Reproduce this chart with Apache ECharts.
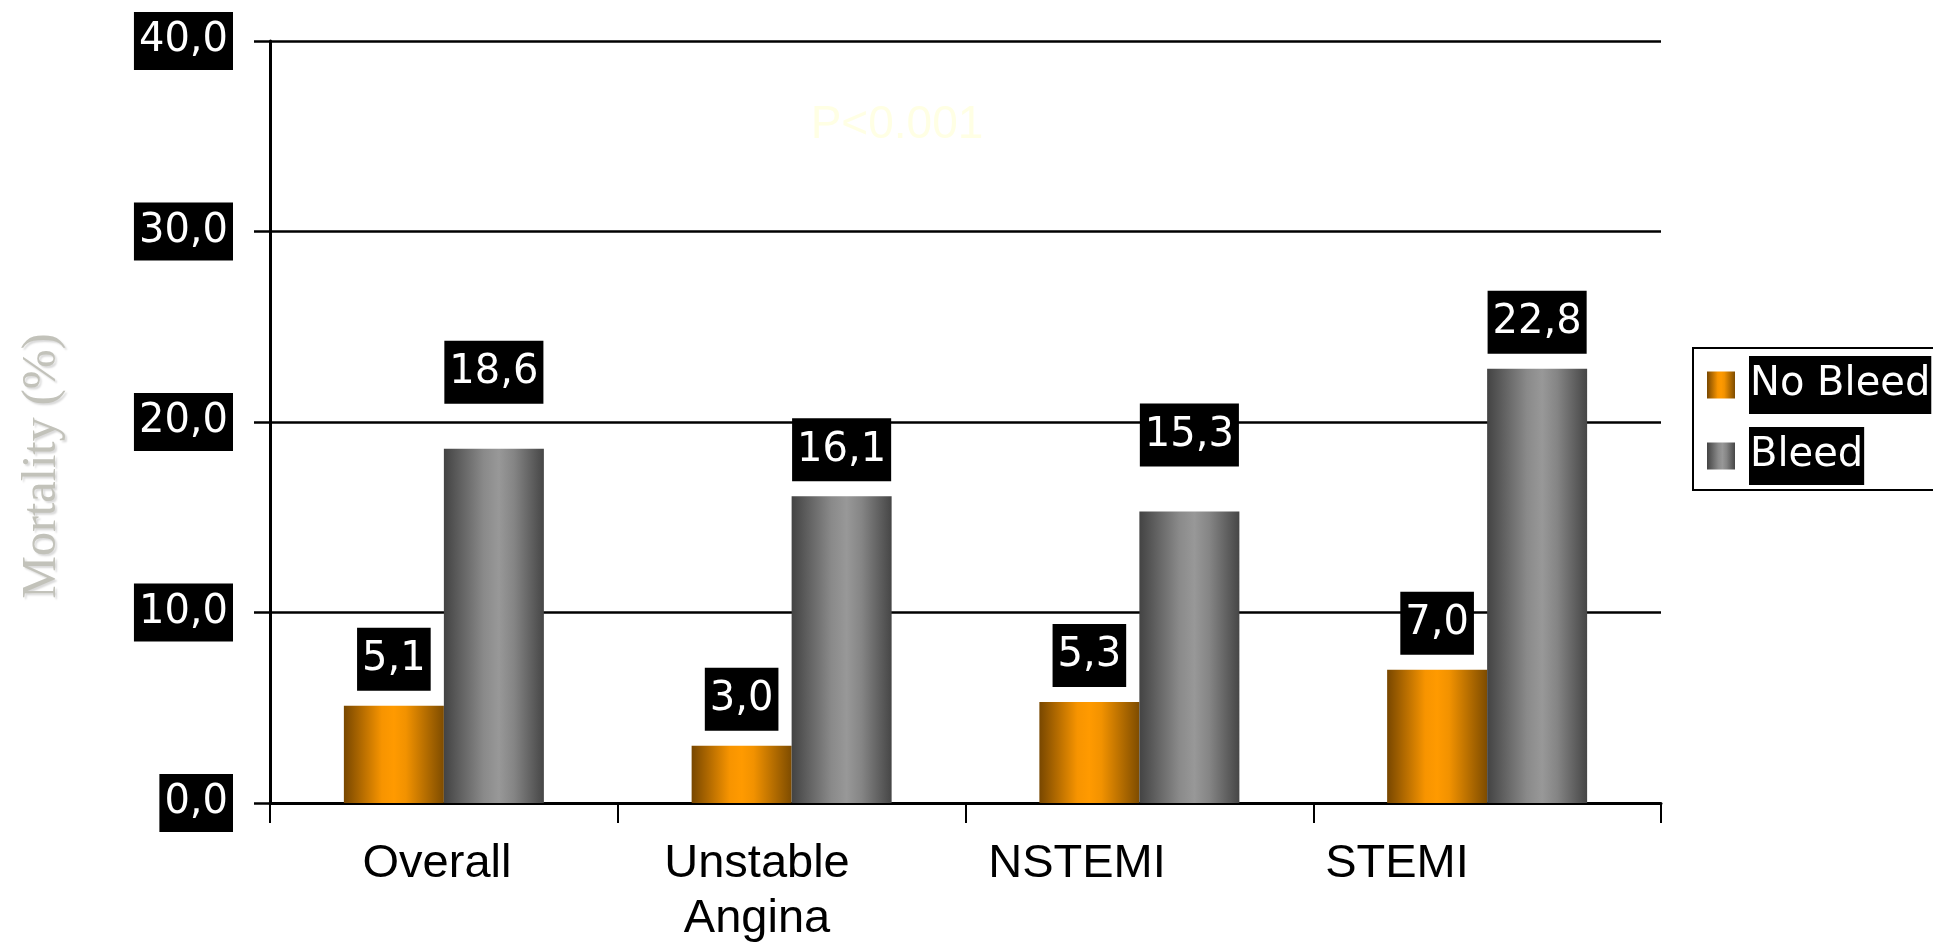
<!DOCTYPE html>
<html>
<head>
<meta charset="utf-8">
<title>Mortality by bleeding status</title>
<script src="https://cdn.jsdelivr.net/npm/echarts@6/dist/echarts.min.js"></script>
<style>
  html, body { margin: 0; padding: 0; background: #ffffff; }
  #chart { width: 1933px; height: 947px; }
</style>
</head>
<body>
<div id="chart"></div>
<script>
// Patient groups along the x axis
const categories = ['Overall', 'Unstable\nAngina', 'NSTEMI', 'STEMI'];
// Mortality (%) per group
const noBleed = [5.1, 3.0, 5.3, 7.0];
const bleed = [18.6, 16.1, 15.3, 22.8];
const seriesNames = ['No Bleed', 'Bleed'];
// Value axis tick labels (decimal comma)
const yTickLabels = ['0,0', '10,0', '20,0', '30,0', '40,0'];
const yAxisTitle = 'Mortality (%)';
const pValueText = 'P<0.001';

const SANS = '"DejaVu Sans", Verdana, sans-serif';
const ARIAL = '"Liberation Sans", Arial, sans-serif';
const SERIF = '"Liberation Serif", "Times New Roman", serif';

const fmtComma = v => Number(v).toFixed(1).replace('.', ',');

const orangeFill = new echarts.graphic.LinearGradient(0, 0, 1, 0, [
  { offset: 0, color: '#784700' },
  { offset: 0.38, color: '#f79400' },
  { offset: 0.5, color: '#ff9a00' },
  { offset: 0.62, color: '#f29200' },
  { offset: 1, color: '#7e4c00' }
]);
const greyFill = new echarts.graphic.LinearGradient(0, 0, 1, 0, [
  { offset: 0, color: '#434343' },
  { offset: 0.4, color: '#8a8a8a' },
  { offset: 0.55, color: '#989898' },
  { offset: 0.7, color: '#858585' },
  { offset: 1, color: '#464646' }
]);

const valueLabel = {
  show: true,
  position: 'top',
  distance: 15,
  formatter: p => fmtComma(p.value),
  fontFamily: SANS,
  fontSize: 40,
  lineHeight: 40,
  color: '#ffffff',
  backgroundColor: '#000000',
  padding: [12, 5, 11, 5]
};

// The Overall and NSTEMI "Bleed" labels sit a little higher above their bars
const bleedData = bleed.map((v, i) =>
  (i === 0 || i === 2) ? { value: v, label: { offset: [0, -30] } } : v
);

const chart = echarts.init(document.getElementById('chart'), null, { renderer: 'canvas' });

const option = {
  backgroundColor: '#ffffff',
  animation: false,
  grid: [
    { left: 270, width: 1391, top: 41, height: 762, containLabel: false },
    // label row for the group names
    { left: 277, width: 1280, top: 41, height: 762, containLabel: false }
  ],
  legend: {
    orient: 'vertical',
    left: 1693,
    top: 348,
    padding: [8, 4, 5, 14],
    itemGap: 13,
    itemWidth: 28,
    itemHeight: 27,
    borderColor: '#000000',
    borderWidth: 2,
    borderRadius: 0,
    backgroundColor: '#ffffff',
    icon: 'rect',
    data: seriesNames,
    formatter: name => '{gap|}{box|' + name + '}',
    textStyle: {
      rich: {
        gap: { width: 9 },
        box: {
          fontFamily: SANS,
          fontSize: 40,
          lineHeight: 40,
          color: '#ffffff',
          backgroundColor: '#000000',
          padding: [9, 1, 9, 1]
        }
      }
    }
  },
  xAxis: [
    {
      type: 'category',
      gridIndex: 0,
      data: categories,
      boundaryGap: true,
      axisLine: { show: true, lineStyle: { color: '#000000', width: 3 } },
      axisTick: { show: true, inside: false, length: 20, lineStyle: { color: '#000000', width: 2 } },
      axisLabel: { show: false },
      splitLine: { show: false }
    },
    {
      type: 'category',
      gridIndex: 1,
      data: categories,
      boundaryGap: true,
      axisLine: { show: false },
      axisTick: { show: false },
      splitLine: { show: false },
      axisLabel: {
        show: true,
        interval: 0,
        margin: 34,
        fontFamily: ARIAL,
        fontSize: 47,
        lineHeight: 55,
        color: '#000000',
        align: 'center'
      }
    }
  ],
  yAxis: [
    {
      type: 'value',
      gridIndex: 0,
      min: 0,
      max: 40,
      interval: 10,
      axisLine: { show: true, lineStyle: { color: '#000000', width: 3 } },
      axisTick: { show: true, inside: false, length: 16, lineStyle: { color: '#000000', width: 2.5 } },
      splitLine: { show: true, lineStyle: { color: '#000000', width: 2.5 } },
      axisLabel: {
        margin: 37,
        formatter: (v, i) => yTickLabels[i] !== undefined ? yTickLabels[i] : fmtComma(v),
        fontFamily: SANS,
        fontSize: 40,
        lineHeight: 40,
        color: '#ffffff',
        backgroundColor: '#000000',
        padding: [9, 5, 9, 5]
      }
    },
    {
      type: 'value',
      gridIndex: 1,
      min: 0,
      max: 40,
      show: false
    }
  ],
  series: [
    {
      name: seriesNames[0],
      type: 'bar',
      xAxisIndex: 0,
      yAxisIndex: 0,
      data: noBleed,
      barWidth: 100,
      barGap: '0%',
      itemStyle: { color: orangeFill },
      label: valueLabel
    },
    {
      name: seriesNames[1],
      type: 'bar',
      xAxisIndex: 0,
      yAxisIndex: 0,
      data: bleedData,
      barWidth: 100,
      barGap: '0%',
      itemStyle: { color: greyFill },
      label: valueLabel
    }
  ],
  graphic: [
    {
      type: 'text',
      x: 42,
      y: 466,
      rotation: Math.PI / 2,
      style: {
        text: yAxisTitle,
        fontFamily: SERIF,
        fontSize: 48,
        fill: '#c2c2ba',
        align: 'center',
        verticalAlign: 'middle',
        textShadowColor: 'rgba(0,0,0,0.15)',
        textShadowOffsetX: 2,
        textShadowOffsetY: 2,
        textShadowBlur: 2
      }
    },
    {
      type: 'text',
      x: 897,
      y: 125,
      style: {
        text: pValueText,
        fontFamily: ARIAL,
        fontSize: 46,
        fill: '#ffffe4',
        align: 'center',
        verticalAlign: 'middle'
      }
    }
  ]
};

chart.setOption(option);
</script>
</body>
</html>
